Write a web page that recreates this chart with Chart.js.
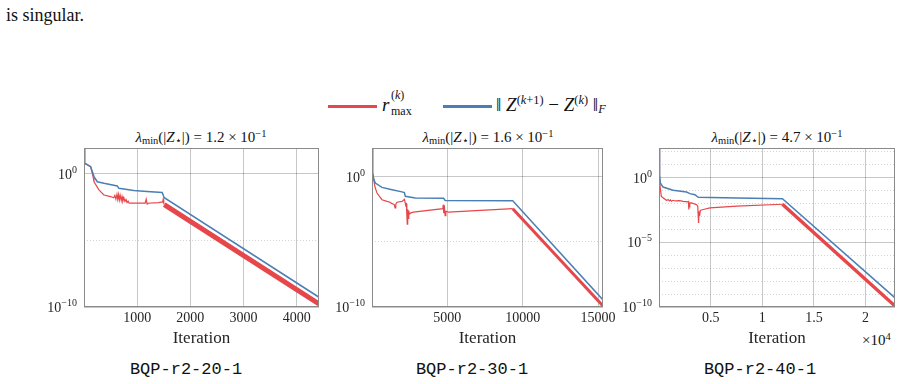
<!DOCTYPE html>
<html><head><meta charset="utf-8">
<script src="https://cdn.jsdelivr.net/npm/chart.js@4.4.1/dist/chart.umd.min.js"></script>
<style>
html,body{margin:0;padding:0;background:#fff;}
body{width:919px;height:384px;position:relative;overflow:hidden;font-family:'Liberation Serif',serif;color:#111;}
.abs{position:absolute;white-space:nowrap;}
canvas{position:absolute;}
.ttl{font-size:15px;transform:translateX(-50%);}
.cap{font-family:'Liberation Mono',monospace;font-size:17px;transform:translateX(-50%);}
sub,sup{font-size:70%;line-height:0;}
.sw{position:absolute;height:3px;}
.lg{font-family:'Liberation Serif',serif;}
</style></head><body>
<div class="abs" style="left:6px;top:5px;font-size:18px;">is singular.</div>

<div class="sw" style="left:328px;top:105px;width:49px;background:#e6474a;"></div>
<div class="abs lg" style="left:382px;top:88px;height:30px;font-size:19px;">
  <span style="position:absolute;left:0;top:6px;"><i>r</i></span>
  <span style="position:absolute;left:9px;top:0px;font-size:12px;">(<i>k</i>)</span>
  <span style="position:absolute;left:9px;top:16px;font-size:12px;">max</span>
</div>
<div class="sw" style="left:443px;top:105px;width:49px;background:#4a7fb5;"></div>
<div class="abs lg" style="left:496px;top:94px;font-size:19px;">&#8214; <i>Z</i><sup style="vertical-align:0.55em;font-size:65%;">(<i>k</i>+1)</sup> &#8722; <i>Z</i><sup style="vertical-align:0.55em;font-size:65%;">(<i>k</i>)</sup> &#8214;<sub style="vertical-align:-0.2em;font-size:65%;"><i>F</i></sub></div>

<div class="abs ttl" style="left:201px;top:129px;"><i>&#955;</i><sub style="vertical-align:-0.2em;">min</sub>(|<i>Z</i><sub style="vertical-align:-0.2em;">&#8902;</sub>|) = 1.2 &#215; 10<sup style="vertical-align:0.5em;">&#8722;1</sup></div>
<div class="abs ttl" style="left:488px;top:129px;"><i>&#955;</i><sub style="vertical-align:-0.2em;">min</sub>(|<i>Z</i><sub style="vertical-align:-0.2em;">&#8902;</sub>|) = 1.6 &#215; 10<sup style="vertical-align:0.5em;">&#8722;1</sup></div>
<div class="abs ttl" style="left:777px;top:129px;"><i>&#955;</i><sub style="vertical-align:-0.2em;">min</sub>(|<i>Z</i><sub style="vertical-align:-0.2em;">&#8902;</sub>|) = 4.7 &#215; 10<sup style="vertical-align:0.5em;">&#8722;1</sup></div>

<div class="abs" style="left:862px;top:332px;font-size:15px;">&#215;10<sup style="vertical-align:0.5em;">4</sup></div>

<div class="abs cap" style="left:186px;top:360px;">BQP-r2-20-1</div>
<div class="abs cap" style="left:472px;top:360px;">BQP-r2-30-1</div>
<div class="abs cap" style="left:760px;top:360px;">BQP-r2-40-1</div>

<canvas id="c1"></canvas>
<canvas id="c2"></canvas>
<canvas id="c3"></canvas>

<script>
// ---------- Panel 1: BQP-r2-20-1 ----------
const p1BlueIter = [1, 12, 60, 125, 188, 250, 375, 625, 656, 937, 1187, 1470, 1500, 1510, 4420];
const p1BlueVal  = [89, 6.3, 5.0, 3.5, 0.63, 0.26, 0.2, 0.126, 0.083, 0.056, 0.047, 0.04, 0.02, 0.0166, 5.4e-10];
const p1RedIter = [1, 12, 60, 125, 175, 188, 281, 375, 500, 560, 580, 600, 620, 635, 650, 665, 680, 700, 715, 730, 750, 770, 790, 810, 830, 850, 1000, 1150, 1170, 1185, 1200, 1400, 1480, 1490, 1500, 1510, 4420];
const p1RedVal  = [89, 6.3, 5.0, 3.5, 0.5, 0.26, 0.063, 0.026, 0.02, 0.016, 0.024, 0.013, 0.03, 0.012, 0.028, 0.011, 0.025, 0.01, 0.02, 0.009, 0.016, 0.0085, 0.012, 0.0071, 0.009, 0.0063, 0.0063, 0.0063, 0.0126, 0.0056, 0.0063, 0.0071, 0.0079, 0.0126, 0.0063, 0.005, 1.7e-10];
const p1DecayStart = 1510;
const p1XTicks = [1000, 2000, 3000, 4000];
const p1YTicks = [1e-10, 1e-5, 1e0];
const p1YExp = ['\u221210', '', '0'];

// ---------- Panel 2: BQP-r2-30-1 ----------
const p2BlueIter = [1, 20, 60, 120, 221, 663, 1326, 1989, 2150, 2210, 2873, 4750, 4860, 9340, 9400, 15300];
const p2BlueVal  = [158, 10, 2.0, 0.63, 0.32, 0.15, 0.1, 0.068, 0.06, 0.031, 0.023, 0.022, 0.015, 0.014, 0.012, 3.8e-10];
const p2RedIter = [1, 20, 60, 110, 200, 331, 663, 995, 1200, 1300, 1400, 1480, 1530, 1580, 1660, 1989, 2150, 2200, 2250, 2280, 2310, 2340, 2370, 2400, 2440, 2480, 2550, 2745, 4700, 4730, 4760, 4800, 4850, 4900, 5070, 9340, 15300];
const p2RedVal  = [158, 10, 2.0, 0.59, 0.16, 0.055, 0.017, 0.0126, 0.011, 0.0089, 0.0079, 0.0071, 0.004, 0.0079, 0.011, 0.0126, 0.018, 0.01, 0.005, 0.0089, 0.0013, 0.00023, 0.0032, 0.00063, 0.0025, 0.0013, 0.0016, 0.0019, 0.0035, 0.0071, 0.0016, 0.0063, 0.001, 0.0022, 0.0019, 0.0035, 1.3e-10];
const p2DecayStart = 9340;
const p2XTicks = [5000, 10000, 15000];
const p2YTicks = [1e-10, 1e-5, 1e0];
const p2YExp = ['\u221210', '', '0'];

// ---------- Panel 3: BQP-r2-40-1 ----------
const p3BlueIter = [1, 30, 80, 127, 387, 1362, 2662, 2990, 3475, 3800, 7537, 11950, 22800];
const p3BlueVal  = [200, 10, 1.7, 0.39, 0.19, 0.107, 0.079, 0.059, 0.049, 0.031, 0.0275, 0.024, 5.6e-10];
const p3RedIter = [1, 30, 80, 110, 224, 712, 900, 1000, 1100, 1200, 1362, 1600, 2000, 2340, 2850, 2890, 2920, 2960, 3000, 3150, 3640, 3750, 3830, 3880, 3930, 4000, 4286, 4936, 7537, 11950, 22800];
const p3RedVal  = [200, 10, 1.7, 0.2, 0.036, 0.018, 0.02, 0.016, 0.019, 0.015, 0.018, 0.016, 0.017, 0.015, 0.0135, 0.0035, 0.009, 0.005, 0.011, 0.0112, 0.0083, 0.0063, 0.00032, 0.0025, 0.0011, 0.003, 0.0035, 0.0047, 0.0063, 0.0089, 1.3e-10];
const p3DecayStart = 11950;
const p3XTicks = [5000, 10000, 15000, 20000];
const p3XLabels = ['0.5', '1', '1.5', '2'];
const p3YTicks = [1e-10, 1e-9, 1e-8, 1e-7, 1e-6, 1e-5, 1e-4, 1e-3, 1e-2, 1e-1, 1e0, 1e1, 1e2];
const p3YExp = ['\u221210', '', '', '', '', '\u22125', '', '', '', '', '0', '', ''];

const RED = '#e6474a', BLUE = '#4a7fb5';
const GRID = 'rgba(0,0,0,0.22)', MINOR = 'rgba(0,0,0,0.17)';
const SERIF = "'Liberation Serif', 'DejaVu Serif', serif";
const TXT = '#262626';

const pts = (xs, ys) => xs.map((x, i) => ({x: x, y: ys[i]}));

const boxPlugin = {
  id: 'box',
  afterDraw(chart) {
    const a = chart.chartArea, c = chart.ctx;
    c.save();
    c.strokeStyle = '#8a8a8a';
    c.lineWidth = 1;
    c.strokeRect(Math.round(a.left) + 0.5, Math.round(a.top) + 0.5, Math.round(a.right - a.left) - 1, Math.round(a.bottom - a.top) - 1);
    // y tick labels as 10 with a raised exponent, placed by the y scale
    const ys = chart.scales.y, exps = chart.options.plugins.box.exps;
    c.fillStyle = TXT;
    c.textBaseline = 'alphabetic';
    ys.ticks.forEach((t, i) => {
      const e = exps[i];
      if (!e) return;
      const py = ys.getPixelForValue(t.value);
      const right = a.left - 7;
      c.font = '10px ' + SERIF;
      const ew = c.measureText(e).width;
      c.textAlign = 'right';
      c.fillText(e, right, py - 1);
      c.font = '14px ' + SERIF;
      c.fillText('10', right - ew, py + 5);
    });
    c.restore();
  }
};

function makeChart(id, area, d) {
  const padL = 60, padT = 12, padR = 22, xH = 42;
  const cv = document.getElementById(id);
  const w = (area.r - area.l) + padL + padR;
  const h = (area.b - area.t) + padT + xH;
  cv.width = w; cv.height = h;
  cv.style.left = (area.l - padL) + 'px';
  cv.style.top = (area.t - padT) + 'px';
  cv.style.width = w + 'px'; cv.style.height = h + 'px';
  new Chart(cv, {
    type: 'line',
    data: {
      datasets: [
        {label: 'blue', data: pts(d.bx, d.by), borderColor: BLUE, borderWidth: 1.5, pointRadius: 0, tension: 0},
        {label: 'red', data: pts(d.rx, d.ry), borderColor: RED, borderWidth: 1.2, pointRadius: 0, tension: 0,
          segment: {borderWidth: ctx => ctx.p0.parsed.x >= d.decay ? d.bandW : 1.2}}
      ]
    },
    options: {
      responsive: false, animation: false, devicePixelRatio: 1,
      layout: {padding: {left: 0, right: padR, top: padT, bottom: 0}},
      plugins: {legend: {display: false}, tooltip: {enabled: false}, box: {exps: d.ye}},
      scales: {
        x: {
          type: 'linear', min: 0, max: d.xmax,
          afterBuildTicks: s => { s.ticks = d.xt.map(v => ({value: v})); },
          afterFit: s => { s.height = xH; },
          ticks: {font: {family: SERIF, size: 14}, color: TXT, padding: 3, maxRotation: 0,
                  callback: (v, i) => d.xl ? d.xl[i] : String(v)},
          grid: {color: GRID, lineWidth: 1, drawTicks: false},
          border: {display: false},
          title: {display: true, text: 'Iteration', font: {family: SERIF, size: 17}, color: TXT, padding: {top: 0, bottom: 0}}
        },
        y: {
          type: 'logarithmic', min: 1e-10, max: d.ymax,
          afterBuildTicks: s => { s.ticks = d.yt.map(v => ({value: v})); },
          afterFit: s => { s.width = padL; },
          ticks: {display: false},
          grid: {color: ctx => (d.ye[ctx.index] ? GRID : MINOR), lineWidth: 1, drawTicks: false},
          border: {display: false, dash: ctx => (d.ye[ctx.index] ? [] : [1, 2])}
        }
      }
    },
    plugins: [boxPlugin]
  });
}

makeChart('c1', {l: 84, r: 319, t: 148, b: 307},
  {bx: p1BlueIter, by: p1BlueVal, rx: p1RedIter, ry: p1RedVal, decay: p1DecayStart, bandW: 5,
   xmax: 4420, ymax: 89, xt: p1XTicks, yt: p1YTicks, ye: p1YExp});
makeChart('c2', {l: 372, r: 603, t: 148, b: 307},
  {bx: p2BlueIter, by: p2BlueVal, rx: p2RedIter, ry: p2RedVal, decay: p2DecayStart, bandW: 3,
   xmax: 15330, ymax: 158, xt: p2XTicks, yt: p2YTicks, ye: p2YExp});
makeChart('c3', {l: 659, r: 895, t: 148, b: 307},
  {bx: p3BlueIter, by: p3BlueVal, rx: p3RedIter, ry: p3RedVal, decay: p3DecayStart, bandW: 3.5,
   xmax: 22850, ymax: 200, xt: p3XTicks, xl: p3XLabels, yt: p3YTicks, ye: p3YExp});
</script>
</body></html>
